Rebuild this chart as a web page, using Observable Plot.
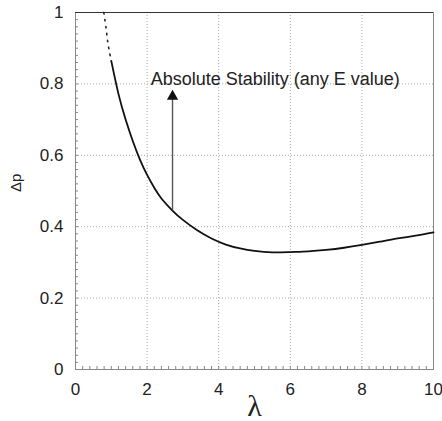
<!DOCTYPE html>
<html>
<head>
<meta charset="utf-8">
<script src="https://cdn.jsdelivr.net/npm/d3@7"></script>
<script src="https://cdn.jsdelivr.net/npm/@observablehq/plot@0.6"></script>
<style>
  html, body { margin: 0; padding: 0; background: #fff; }
  svg { display: block; }
</style>
</head>
<body>
<div id="chart"></div>
<script>
// Solid curve (λ >= 1)
const lambdaSolid = [1.0, 1.2, 1.4, 1.6, 1.8, 2.0, 2.2, 2.4, 2.7, 3.0, 3.4, 3.8, 4.2, 4.6, 5.0, 5.5, 6.0, 6.5, 7.0, 7.5, 8.0, 8.5, 9.0, 9.5, 10.0];
const dpSolid     = [0.864, 0.772, 0.700, 0.640, 0.588, 0.545, 0.509, 0.479, 0.446, 0.419, 0.390, 0.367, 0.350, 0.339, 0.332, 0.328, 0.329, 0.331, 0.335, 0.341, 0.349, 0.358, 0.367, 0.375, 0.384];
// Dotted extension (λ < 1)
const lambdaDotted = [0.79, 0.857, 0.90, 0.957, 1.0];
const dpDotted     = [1.0, 0.954, 0.918, 0.885, 0.864];
// Annotation
const annotText = "Absolute Stability (any E value)";
const annotPos = [2.1, 0.796];
const arrowX = 2.71;
const arrowFrom = 0.446;
const arrowTo = 0.765;
// Ticks
const xTicks = [0, 2, 4, 6, 8, 10];
const yTicks = [0, 0.2, 0.4, 0.6, 0.8, 1];
const xGrid = [2, 4, 6, 8];
const yGrid = [0.2, 0.4, 0.6, 0.8];
const xMinor = d3.range(0, 51).map(i => i * 0.2);
const yMinor = d3.range(0, 51).map(i => i * 0.02);

const solid = lambdaSolid.map((x, i) => ({x, y: dpSolid[i]}));
const dotted = lambdaDotted.map((x, i) => ({x, y: dpDotted[i]}));

const chart = Plot.plot({
  width: 442,
  height: 421,
  marginLeft: 75,
  marginRight: 9,
  marginTop: 12,
  marginBottom: 52,
  style: {fontFamily: "'Liberation Sans', Arial, Helvetica, sans-serif", background: "#fff", color: "#222"},
  x: {domain: [0, 10]},
  y: {domain: [0, 1]},
  marks: [
    Plot.gridX(xGrid, {stroke: "#aaa", strokeOpacity: 1, strokeDasharray: "1,2"}),
    Plot.gridY(yGrid, {stroke: "#aaa", strokeOpacity: 1, strokeDasharray: "1,2"}),
    Plot.axisX(xMinor, {tickSize: 3, dy: -3, tickFormat: () => "", stroke: "#888", label: null}),
    Plot.axisY(yMinor, {tickSize: 3, dx: 3, tickFormat: () => "", stroke: "#888", label: null}),
    Plot.axisX(xTicks, {tickSize: 0, tickPadding: 13, fontSize: 17, label: null, fill: "#222"}),
    Plot.axisY(yTicks, {tickSize: 0, tickPadding: 12, fontSize: 17, label: null, fill: "#222", tickFormat: d => String(d)}),
    Plot.frame({stroke: "#888"}),
    Plot.ruleY([1], {stroke: "#333", strokeWidth: 1.2}),
    Plot.line(dotted, {x: "x", y: "y", curve: "natural", stroke: "#222", strokeWidth: 1.6, strokeDasharray: "1.5,5.5"}),
    Plot.line(solid, {x: "x", y: "y", curve: "natural", stroke: "#111", strokeWidth: 1.8}),
    Plot.link([0], {x1: () => arrowX, x2: () => arrowX, y1: () => arrowFrom, y2: () => arrowTo, stroke: "#555", strokeWidth: 1.4}),
    Plot.dot([0], {x: () => arrowX, y: () => arrowTo, symbol: "triangle", r: 4.2, fill: "#111", stroke: "none"}),
    Plot.text([annotText], {x: () => annotPos[0], y: () => annotPos[1], text: d => d, textAnchor: "start", lineAnchor: "bottom", fontSize: 18, fill: "#222"}),
    Plot.text(["Δp"], {frameAnchor: "left", dx: -59, dy: 1, rotate: -90, fontSize: 15, fill: "#222"}),
    Plot.text(["λ"], {frameAnchor: "bottom", dy: 46, fontSize: 30, fill: "#222", fontFamily: "'Liberation Serif', 'DejaVu Serif', serif"})
  ]
});
document.getElementById("chart").appendChild(chart);
</script>
</body>
</html>
